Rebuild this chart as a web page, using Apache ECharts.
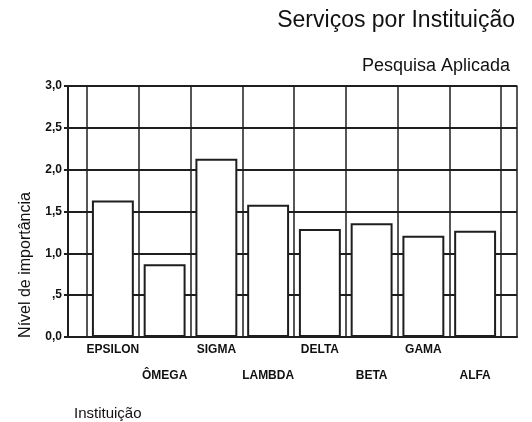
<!DOCTYPE html>
<html><head><meta charset="utf-8">
<script src="https://cdn.jsdelivr.net/npm/echarts@6/dist/echarts.min.js"></script>
<style>html,body{margin:0;padding:0;background:#fff}#c{width:532px;height:422px}</style>
</head><body><div id="c"></div>
<script>
const categories = ['EPSILON', 'ÔMEGA', 'SIGMA', 'LAMBDA', 'DELTA', 'BETA', 'GAMA', 'ALFA'];
const values = [1.63, 0.87, 2.13, 1.58, 1.29, 1.36, 1.21, 1.27];
const yTickLabels = ['0,0', ',5', '1,0', '1,5', '2,0', '2,5', '3,0'];

const chart = echarts.init(document.getElementById('c'));
const dark = '#1e1e1e';
const font = '"Liberation Sans", Arial, sans-serif';
chart.setOption({
  animation: false,
  backgroundColor: '#fff',
  title: [
    { text: 'Serviços por Instituição', right: 12, top: 4, textStyle: { fontFamily: font, fontSize: 23, fontWeight: 'normal', color: '#111' } },
    { text: 'Pesquisa Aplicada', right: 17, top: 52, textStyle: { fontFamily: font, fontSize: 18, fontWeight: 'normal', color: '#111' } },
    { text: 'Instituição', left: 69, top: 401, textStyle: { fontFamily: font, fontSize: 15, fontWeight: 'normal', color: '#111' } }
  ],
  graphic: [{
    type: 'text', x: 26, y: 265, rotation: Math.PI / 2,
    style: { text: 'Nível de importância', fontFamily: font, fontSize: 16, fill: '#111', align: 'center', verticalAlign: 'middle' }
  }],
  grid: [
    { left: 68, right: 15, top: 86, bottom: 85 },
    { left: 87, right: 31, top: 86, bottom: 85 }
  ],
  xAxis: [
    { gridIndex: 0, type: 'value', min: 0, max: 1, axisLine: { show: true, lineStyle: { color: dark, width: 2 } }, axisTick: { show: false }, axisLabel: { show: false }, splitLine: { show: false } },
    { gridIndex: 1, type: 'category', data: categories, axisLine: { show: false }, axisTick: { show: false },
      splitLine: { show: true, lineStyle: { color: dark, width: 1.5 } },
      axisLabel: { interval: 0, margin: 0, fontFamily: font, fontSize: 12, fontWeight: 'bold', color: '#111', lineHeight: 26,
        formatter: (v, i) => (i % 2 === 1 ? '\n' + v : v) } }
  ],
  yAxis: [
    { gridIndex: 0, type: 'value', min: 0, max: 3, interval: 0.5,
      axisLine: { show: true, lineStyle: { color: dark, width: 2 } },
      axisTick: { show: true, length: 4, lineStyle: { color: dark, width: 2 } },
      axisLabel: { margin: 6, fontFamily: font, fontSize: 12, fontWeight: 'bold', color: '#111', formatter: (v) => yTickLabels[Math.round(v * 2)] },
      splitLine: { show: true, lineStyle: { color: dark, width: 2 } } },
    { gridIndex: 0, type: 'value', min: 0, max: 3, interval: 0.5, position: 'right',
      axisLine: { show: true, lineStyle: { color: dark, width: 1.5 } }, axisTick: { show: false }, axisLabel: { show: false }, splitLine: { show: false } },
    { gridIndex: 1, type: 'value', min: 0, max: 3, interval: 0.5, show: false, splitLine: { show: false } }
  ],
  series: [{
    type: 'bar', xAxisIndex: 1, yAxisIndex: 2, data: values, barWidth: '81%',
    itemStyle: { color: '#fff', borderColor: dark, borderWidth: 2 }
  }]
});
</script></body></html>
